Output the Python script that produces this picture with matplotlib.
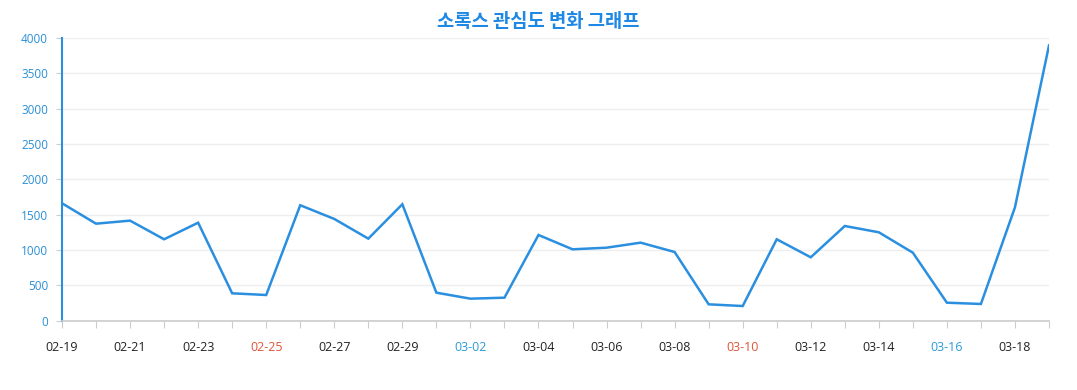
import matplotlib
matplotlib.use('Agg')
import matplotlib.pyplot as plt
from matplotlib.ticker import MultipleLocator

# 날짜 (02-19 ~ 03-19)
dates = ['02-19', '02-20', '02-21', '02-22', '02-23', '02-24', '02-25', '02-26',
         '02-27', '02-28', '02-29', '03-01', '03-02', '03-03', '03-04', '03-05',
         '03-06', '03-07', '03-08', '03-09', '03-10', '03-11', '03-12', '03-13',
         '03-14', '03-15', '03-16', '03-17', '03-18', '03-19']
values = [1660, 1371, 1414, 1150, 1385, 385, 361, 1632, 1438, 1159,
          1646, 394, 309, 323, 1211, 1008, 1031, 1102, 970, 229,
          205, 1150, 895, 1338, 1249, 960, 252, 234, 1603, 3895]
red_labels = ['02-25', '03-10']
blue_labels = ['03-02', '03-16']

line_color = '#2b8fe0'

fig = plt.figure(figsize=(10.77, 3.9), dpi=100)
ax = fig.add_axes([62 / 1077, 69.5 / 390, 987 / 1077, 282.5 / 390])

x = list(range(len(dates)))
ax.plot(x, values, color=line_color, linewidth=1.8, solid_joinstyle='miter')

ax.set_xlim(0, len(dates) - 1)
ax.set_ylim(0, 4000)
ax.yaxis.set_major_locator(MultipleLocator(500))
ax.grid(axis='y', color='#eeeeee', linewidth=1)
ax.set_axisbelow(True)

ax.set_xticks(x)
ax.set_xticklabels([d if i % 2 == 0 else '' for i, d in enumerate(dates)],
                   fontfamily='Open Sans', fontsize=9)
for lbl in ax.get_xticklabels():
    t = lbl.get_text()
    if t in red_labels:
        lbl.set_color('#e0533a')
    elif t in blue_labels:
        lbl.set_color('#2a9bd8')
    else:
        lbl.set_color('#222222')
ax.tick_params(axis='x', length=5, color='#cccccc', pad=10)
ax.tick_params(axis='y', length=4, color='#cccccc', labelcolor='#2a8fd6',
               labelsize=8.5, pad=6)
for lbl in ax.get_yticklabels():
    lbl.set_fontfamily('Open Sans')

for s in ['top', 'right']:
    ax.spines[s].set_visible(False)
ax.spines['left'].set_color(line_color)
ax.spines['left'].set_linewidth(1.5)
ax.spines['bottom'].set_color('#cccccc')
ax.spines['bottom'].set_linewidth(1.2)

fig.text(0.5, 0.945, '소록스 관심도 변화 그래프', ha='center', va='center',
         fontsize=13.5, fontweight='bold', color='#1e88e5',
         family=['Noto Sans CJK KR', 'DejaVu Sans'])

fig.savefig('out.png', dpi=100)
